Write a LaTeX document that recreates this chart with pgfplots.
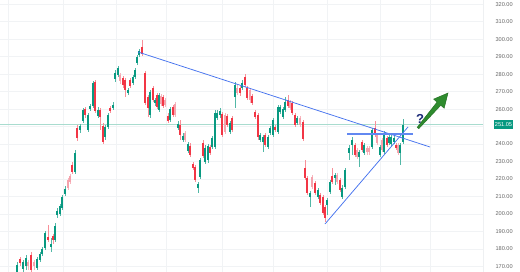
\documentclass[border=0pt]{standalone}
\usepackage{fontspec}
\setmainfont{Liberation Sans}
\usepackage{pgfplots}
\usepackage{pgfplotstable}
\pgfplotsset{compat=1.18}
\definecolor{tvgreen}{HTML}{089981}
\definecolor{tvred}{HTML}{F23645}
\definecolor{tvpink}{HTML}{F5A3AD}
\definecolor{trend}{HTML}{4673EE}
\definecolor{pline}{HTML}{A9DCCF}
\definecolor{gridc}{HTML}{F1F3F5}
\definecolor{arrowg}{HTML}{2E8B2E}
\definecolor{arrowd}{HTML}{1F6B1F}
\definecolor{qnavy}{HTML}{1B2A78}

% columns: x open high low close
\pgfplotstableread{
x o h l c
17 166.8 172.5 165.6 170.8
23 168.5 173.6 166.8 172.5
26 170.2 176.5 167.9 174.8
37 169.1 175.4 167.9 174.2
40 173.6 178.2 172.5 177.1
42 177.1 181.1 176.0 180.0
45 180.5 190.2 179.4 189.1
51 181.1 186.2 178.2 182.8
55 185.1 194.8 184.0 193.1
57 199.4 203.4 197.7 201.7
60 200.0 205.7 198.8 204.5
62 203.4 210.8 202.3 209.7
65 211.4 216.0 210.3 214.3
75 224.0 236.6 222.9 234.9
80 248.1 251.5 246.3 250.3
83 253.2 260.6 252.1 259.5
88 248.1 257.8 246.9 256.6
90 260.1 262.9 258.9 261.8
93 261.8 276.1 260.6 275.0
98 256.1 261.2 254.9 259.5
105 244.0 250.9 242.3 249.8
108 249.8 257.8 248.6 256.6
113 260.6 264.1 259.5 262.4
115 277.2 282.4 275.5 280.7
118 279.5 284.7 278.4 283.5
128 269.2 272.1 268.1 270.9
133 275.0 279.5 273.8 278.4
135 278.4 283.5 277.2 282.4
137 286.4 291.0 285.3 289.8
139 291.0 294.4 289.8 293.3
150 256.6 270.9 254.9 269.8
155 263.5 266.4 261.8 265.2
159 259.5 269.2 258.4 268.1
170 253.8 261.2 252.6 260.1
178 249.2 253.2 248.1 251.5
183 242.3 246.3 241.2 244.6
188 236.0 241.2 234.9 240.0
198 214.8 218.3 212.0 217.1
200 221.1 232.0 220.0 230.9
205 229.7 239.5 228.6 237.7
208 230.9 240.0 229.2 238.9
212 238.3 244.6 237.2 243.5
215 238.3 259.5 237.2 257.8
217 254.9 259.5 253.8 257.8
220 256.6 260.6 254.9 258.9
230 246.9 253.2 245.8 252.1
235 267.0 275.5 260.6 273.8
242 272.1 276.7 270.9 275.0
260 242.3 246.3 241.2 245.2
263 241.2 245.2 235.5 244.0
268 238.3 245.2 237.2 244.0
270 246.3 250.3 245.2 249.2
273 245.2 254.9 244.0 253.8
278 246.9 262.4 245.8 261.2
280 258.4 262.4 257.2 261.2
283 255.5 261.2 254.4 260.1
285 259.5 267.0 258.4 264.1
297 252.1 256.1 250.9 254.9
310 209.7 213.1 204.0 212.0
318 209.7 214.8 208.6 213.7
327 205.1 209.1 199.4 208.0
330 212.6 219.4 211.4 218.3
335 220.6 223.4 216.6 222.3
342 209.7 216.6 208.6 214.8
345 215.4 226.3 214.3 225.2
349 234.9 239.5 230.9 237.7
352 239.5 244.0 233.7 242.3
359 232.6 236.6 226.9 235.5
364 234.9 240.6 233.7 239.5
372 238.3 249.2 237.2 248.1
380 233.7 239.5 232.6 238.3
384 235.5 247.5 234.3 246.3
389 240.6 245.2 239.5 244.0
391 240.0 245.2 238.9 244.0
394 241.2 244.6 240.0 243.5
400 234.9 240.6 228.0 239.5
403 241.2 254.4 240.0 251.05
}\greencandles

\pgfplotstableread{
x o h l c
20 174.2 175.4 170.2 171.9
31 176.5 178.2 166.8 167.9
48 186.8 193.7 184.0 185.1
53 187.4 188.5 182.8 185.1
72 228.0 229.7 222.9 224.0
77 249.2 250.9 241.8 243.5
85 260.1 261.2 254.9 256.6
95 275.5 276.7 257.8 258.9
100 259.5 260.6 248.1 255.5
103 250.3 252.1 240.0 241.2
110 260.6 261.8 257.8 258.9
123 277.8 279.0 272.1 273.8
125 276.7 277.8 267.0 270.9
130 276.7 277.8 272.1 273.2
142 295.6 299.6 290.4 291.6
145 280.7 281.8 262.4 263.5
148 267.0 268.1 255.5 260.6
153 272.1 273.2 264.1 265.2
157 268.1 269.2 260.1 261.2
163 267.0 268.1 260.6 261.8
168 256.1 257.8 252.1 253.2
173 261.2 262.4 255.5 256.6
180 250.9 253.8 242.3 245.2
190 238.9 240.6 232.6 233.7
193 228.6 229.7 225.2 226.3
195 226.9 228.0 218.3 219.4
203 240.6 242.3 232.0 233.2
210 238.3 239.5 233.7 234.9
222 257.2 258.4 244.0 245.2
227 256.1 257.2 249.8 250.9
232 254.9 256.1 246.9 248.1
240 272.1 273.2 267.5 269.2
245 278.4 280.1 272.7 273.8
247 272.1 273.2 265.2 266.4
252 267.5 268.7 262.4 263.5
255 258.4 259.5 254.4 255.5
258 256.6 257.8 242.3 244.0
265 245.2 246.3 238.3 239.5
275 249.8 250.9 246.9 248.1
288 265.2 268.1 260.6 261.8
292 263.5 264.7 256.6 257.8
295 256.6 257.8 249.8 250.9
303 252.6 253.8 241.8 242.9
305 226.3 230.9 219.4 220.6
307 220.6 221.7 210.8 212.0
315 217.7 218.9 210.8 212.0
320 210.8 212.0 205.1 206.3
323 209.7 210.8 199.4 200.5
325 204.0 205.1 195.4 197.7
332 221.7 226.3 217.1 218.3
340 219.4 220.6 212.6 213.7
355 239.5 240.6 232.6 233.7
362 241.2 242.3 235.5 236.6
375 249.2 253.2 244.0 245.2
387 243.5 244.6 238.3 239.5
396 239.5 240.6 236.6 237.7
}\redcandles

\pgfplotstableread{
x o h l c
28 172.5 173.6 167.9 170.2
34 172.5 173.6 167.9 170.2
68 219.4 220.6 213.7 214.8
70 221.7 222.9 217.1 218.3
120 279.5 280.7 274.4 276.1
161 267.5 268.7 261.8 262.9
165 265.2 266.4 261.2 262.4
175 262.9 264.1 255.5 256.6
185 246.3 247.5 241.2 242.3
225 256.6 257.8 245.8 246.9
237 272.1 273.8 268.1 269.2
250 270.9 272.1 263.5 265.2
290 264.1 265.2 259.5 260.6
300 254.9 256.1 249.8 250.9
312 221.1 222.3 214.3 215.4
337 222.3 223.4 217.1 218.3
357 236.6 237.7 231.5 232.6
367 237.7 238.9 233.7 235.5
369 237.7 238.9 233.7 235.5
377 245.2 246.3 239.5 240.6
382 242.3 243.5 235.5 236.6
398 239.5 240.6 233.7 234.9
}\pinkcandles

\pgfplotsset{
  wick/.style={draw=none, mark=none, forget plot,
    error bars/.cd, y dir=both, y explicit, error mark=none,
    error bar style={draw=#1, line width=0.55pt}},
  body/.style={draw=none, mark=none, forget plot,
    error bars/.cd, y dir=both, y explicit, error mark=none,
    error bar style={draw=#1, line width=2.1pt}},
}

\begin{document}
\begin{tikzpicture}
\useasboundingbox (0,0) rectangle (520pt,272pt);
\begin{axis}[
  at={(0,0)}, anchor=south west,
  scale only axis, width=483pt, height=272pt,
  xmin=0, xmax=483, ymin=166.77, ymax=322.46,
  axis line style={draw=none},
  clip mode=individual,
  grid=major,
  grid style={color=gridc, line width=0.6pt},
  xtick={8,63,116,166,222,273,327,380,430,483},
  xticklabels={},
  ytick={170,180,190,200,210,220,230,240,260,270,280,290,300,310,320},
  extra y ticks={250},
  extra y tick labels={},
  yticklabel pos=right,
  tick style={draw=none},
  /pgf/number format/.cd, fixed, fixed zerofill, precision=2, assume math mode=true,
  /pgfplots/.cd,
  y tick label style={font=\fontsize{5.6}{6}\selectfont, text=black!60, anchor=west, xshift=9pt},
]
% last price line
\addplot[color=pline, line width=0.6pt, forget plot] coordinates {(0,251.05) (483,251.05)};
% vertical right border
\addplot[color=black!12, line width=0.6pt, forget plot] coordinates {(483,166.77) (483,322.46)};

% wicks
\addplot[wick=tvgreen!70] table[x=x, y expr={(\thisrow{h}+\thisrow{l})/2}, y error expr={(\thisrow{h}-\thisrow{l})/2}] {\greencandles};
\addplot[wick=tvred!55] table[x=x, y expr={(\thisrow{h}+\thisrow{l})/2}, y error expr={(\thisrow{h}-\thisrow{l})/2}] {\redcandles};
\addplot[wick=tvpink!80] table[x=x, y expr={(\thisrow{h}+\thisrow{l})/2}, y error expr={(\thisrow{h}-\thisrow{l})/2}] {\pinkcandles};
% bodies
\addplot[body=tvgreen] table[x=x, y expr={(\thisrow{o}+\thisrow{c})/2}, y error expr={abs(\thisrow{o}-\thisrow{c})/2}] {\greencandles};
\addplot[body=tvred] table[x=x, y expr={(\thisrow{o}+\thisrow{c})/2}, y error expr={abs(\thisrow{o}-\thisrow{c})/2}] {\redcandles};
\addplot[body=tvpink] table[x=x, y expr={(\thisrow{o}+\thisrow{c})/2}, y error expr={abs(\thisrow{o}-\thisrow{c})/2}] {\pinkcandles};

% trend lines
\addplot[color=trend, line width=0.75pt] coordinates {(138,292.70) (430,238.32)};
\addplot[color=trend, line width=0.75pt] coordinates {(325,194.24) (408,249.77)};
\addplot[color=trend!85, line width=1.1pt] coordinates {(347,245.76) (413,245.76)};

% arrow
\addplot[fill=arrowg, draw=arrowd, line width=0.4pt] coordinates {
 (418.8,248.79) (440.8,262.19) (444.2,260.47) (448,269.23) (433.6,265.73) (437.0,264.02) (417.2,249.59)} -- cycle;

\node[font=\bfseries\fontsize{13}{13}\selectfont, text=qnavy] at (axis cs:420,254.6) {?};
\node[fill=tvgreen, text=white, font=\fontsize{5.6}{6}\selectfont, inner sep=0pt, minimum width=19pt, minimum height=9pt] at (axis cs:503.5,251.05) {251.05};
\end{axis}
\end{tikzpicture}
\end{document}
